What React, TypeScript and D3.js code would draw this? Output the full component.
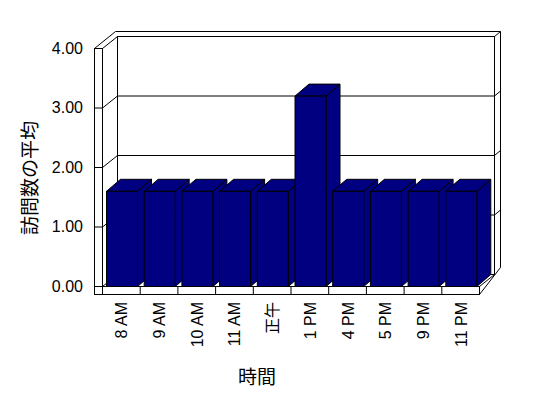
import React from "react";
import * as d3 from "d3";

const categories = ["8 AM", "9 AM", "10 AM", "11 AM", "正午", "1 PM", "4 PM", "5 PM", "9 PM", "11 PM"];
const values = [1.6, 1.6, 1.6, 1.6, 1.6, 3.2, 1.6, 1.6, 1.6, 1.6];
const yTicks = [0, 1, 2, 3, 4];
const yTitle = "訪問数の平均";
const xTitle = "時間";

const W = 548;
const H = 398;
const xL = 102, xR = 479, yB = 286, yT = 48;
const DX = 15, DY = -12; // plot depth
const BDX = 14, BDY = -12; // bar depth
const WALL = 8;
const TX = 6, TY = -5; // back wall thickness projection
const NAVY = "#000080";
const FONT = "'Liberation Sans', Arial, 'Noto Sans CJK JP', sans-serif";

export default function App() {
  const x = d3.scaleBand<string>().domain(categories).range([xL, xR]).paddingInner(0).paddingOuter(0);
  const y = d3.scaleLinear().domain([0, 4]).range([yB, yT]);
  const bw = x.bandwidth();
  const barOff = 4;
  const barW = 31;

  const line = (x1: number, y1: number, x2: number, y2: number, k: string) => (
    <line key={k} x1={x1} y1={y1} x2={x2} y2={y2} stroke="#000" strokeWidth={1} />
  );

  const bxL = xL + DX, bxR = xR + DX, byT = yT + DY, byB = yB + DY;

  const frame: React.ReactNode[] = [];
  frame.push(<rect key="bw" x={bxL} y={byT} width={bxR - bxL} height={byB - byT} fill="#fff" stroke="#000" />);
  frame.push(line(xL - WALL + DX + TX, byT + TY, bxR + TX, byT + TY, "bot"));
  frame.push(line(bxR + TX, byT + TY, bxR + TX, byB + TY - 2, "bor"));
  frame.push(line(bxR, byT, bxR + TX, byT + TY, "bc"));
  frame.push(<rect key="lw" x={xL - WALL} y={yT} width={WALL} height={yB + WALL - yT} fill="#fff" stroke="#000" />);
  frame.push(line(xL - WALL, yT, xL - WALL + DX + TX, byT + TY, "ld1"));
  frame.push(line(xL, yT, bxL, byT, "ld2"));
  frame.push(line(xL, yB, bxL, byB, "ld3"));
  frame.push(<rect key="fl" x={xL} y={yB} width={xR - xL} height={WALL} fill="#fff" stroke="#000" />);
  frame.push(line(xR, yB + WALL, bxR + TX, byB + TY - 2, "fd1"));
  frame.push(line(xR, yB, bxR, byB, "fd2"));

  const grid: React.ReactNode[] = [];
  yTicks.forEach((v) => {
    const yy = y(v);
    grid.push(line(xL - WALL, yy, xL, yy, "t" + v));
    if (v > 0 && v < 4) {
      grid.push(line(xL, yy, bxL, yy + DY, "gd" + v));
      grid.push(line(bxL, yy + DY, bxR, yy + DY, "gb" + v));
      grid.push(line(bxR, yy + DY, bxR + TX, yy + DY + TY, "gr" + v));
    }
  });
  categories.slice(1).forEach((c) => {
    const xx = x(c)!;
    grid.push(line(xx, yB, xx, yB + WALL, "ct" + c));
  });

  const bars = categories.map((c, i) => {
    const x0 = x(c)! + barOff;
    const x1 = x0 + barW;
    const yt = y(values[i]);
    const front = `M${x0},${yB}L${x0},${yt}L${x1},${yt}L${x1},${yB}Z`;
    const top = `M${x0},${yt}L${x0 + BDX},${yt + BDY}L${x1 + BDX},${yt + BDY}L${x1},${yt}Z`;
    const side = `M${x1},${yB}L${x1},${yt}L${x1 + BDX},${yt + BDY}L${x1 + BDX},${yB + BDY}Z`;
    return (
      <g key={c}>
        <path d={side} fill={NAVY} stroke="#000" />
        <path d={top} fill={NAVY} stroke="#000" />
        <path d={front} fill={NAVY} stroke="#000" />
      </g>
    );
  });

  return (
    <svg width={W} height={H} style={{ position: "absolute", left: 0, top: 0, background: "#fff" }}>
      <rect x={0} y={0} width={W} height={H} fill="#fff" />
      <g transform="translate(0.5,0.5)">
        {frame}
        {grid}
        {bars}
      </g>
      {yTicks.map((v) => (
        <text key={v} x={83} y={y(v)} textAnchor="end" dominantBaseline="central" fontFamily={FONT} fontSize={16}>
          {d3.format(".2f")(v)}
        </text>
      ))}
      {categories.map((c) => (
        <text
          key={c}
          transform={`translate(${x(c)! + bw / 2 + 1},302) rotate(-90)`}
          textAnchor="end"
          dominantBaseline="central"
          fontFamily={FONT}
          fontSize={16}
        >
          {c}
        </text>
      ))}
      <text
        transform="translate(30,178) rotate(-90)"
        textAnchor="middle"
        dominantBaseline="central"
        fontFamily={FONT}
        fontSize={19}
      >
        {yTitle}
      </text>
      <text x={257} y={377} textAnchor="middle" dominantBaseline="central" fontFamily={FONT} fontSize={19}>
        {xTitle}
      </text>
    </svg>
  );
}
